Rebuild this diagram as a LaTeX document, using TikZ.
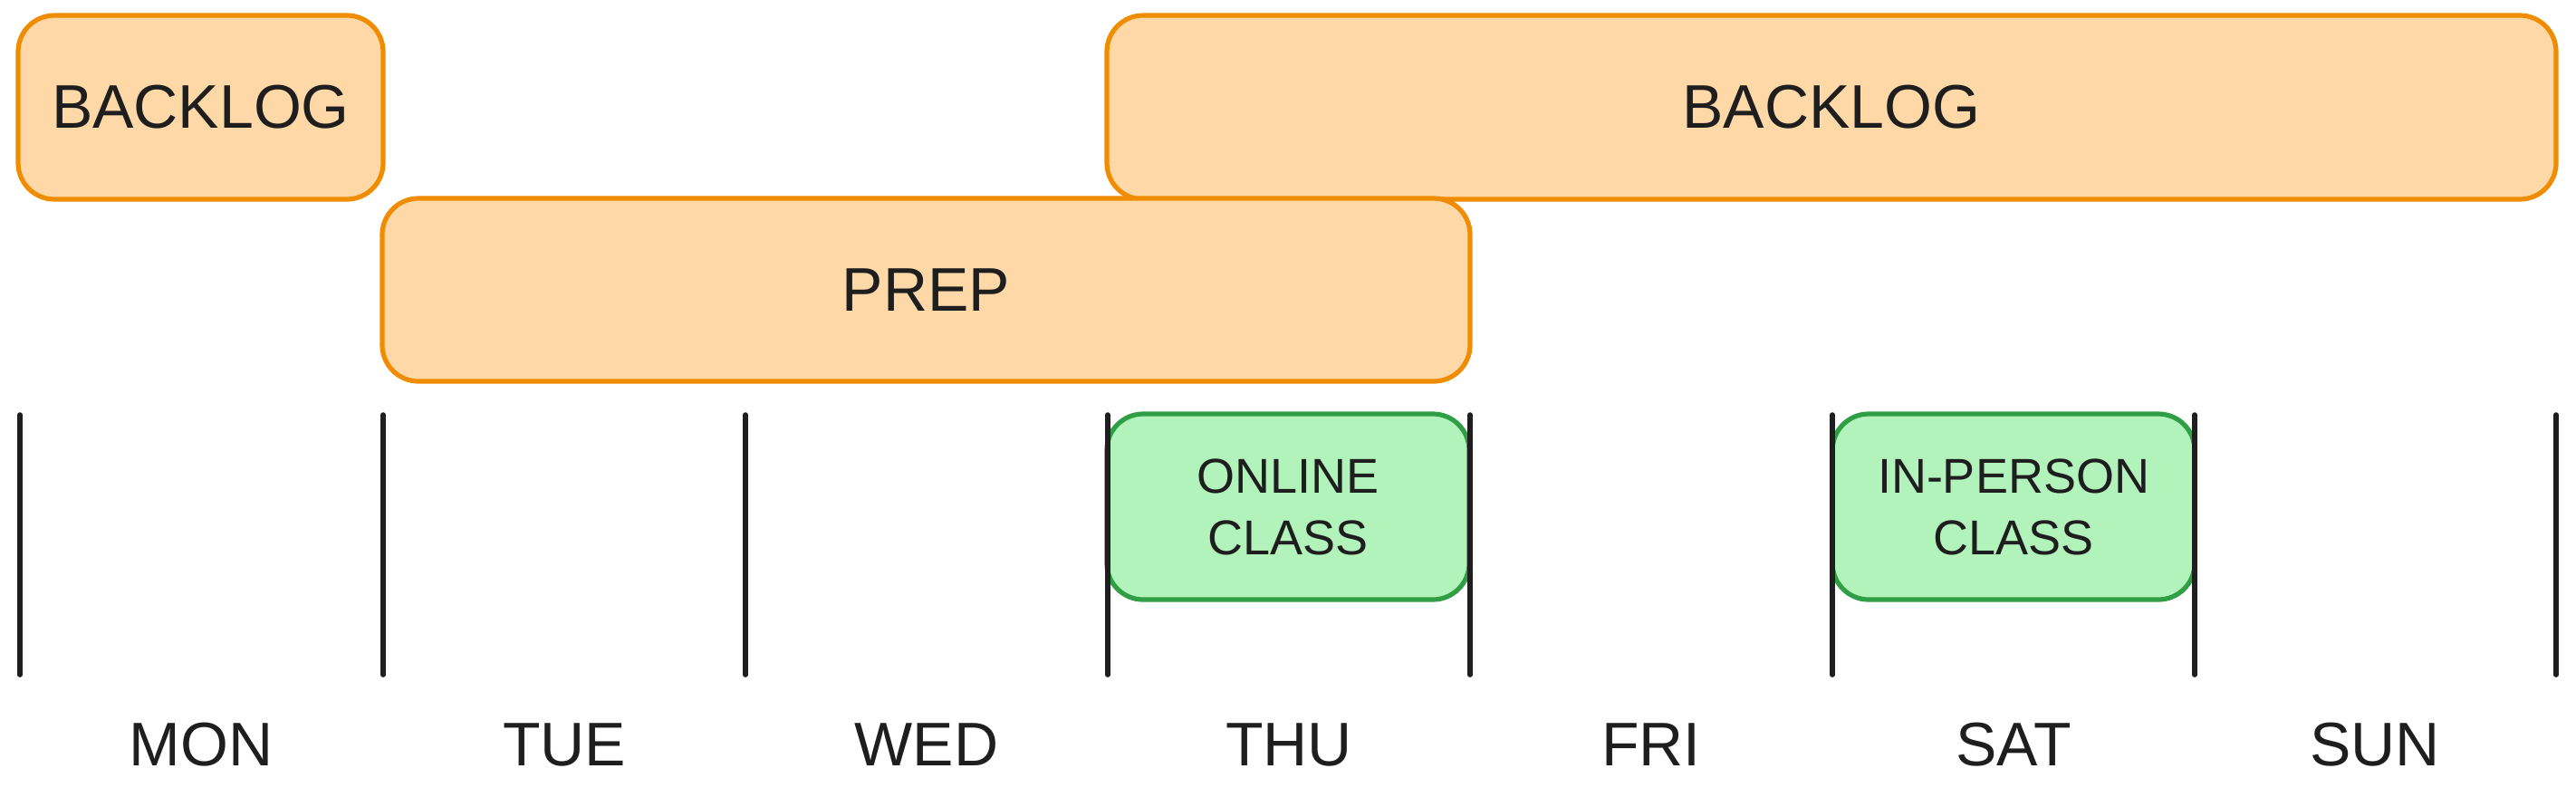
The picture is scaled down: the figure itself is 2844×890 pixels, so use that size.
\documentclass[tikz,border=0pt]{standalone}
\usepackage{fontspec}
\setmainfont{Liberation Sans}
\definecolor{ink}{HTML}{1E1E1E}
\definecolor{orfill}{HTML}{FFD8A8}
\definecolor{orline}{HTML}{F08C00}
\definecolor{grfill}{HTML}{B2F2BB}
\definecolor{grline}{HTML}{2F9E44}
\tikzset{
  obox/.style={draw=orline, fill=orfill, line width=2.6pt, rounded corners=20pt,
    inner sep=0pt, text=ink, font=\fontsize{34}{40}\selectfont},
  gbox/.style={draw=grline, fill=grfill, line width=2.6pt, rounded corners=20pt,
    inner sep=0pt, text=ink, align=center, font=\fontsize{27}{34}\selectfont},
  tick/.style={draw=ink, line width=2.8pt, line cap=round},
  day/.style={text=ink, font=\fontsize{34}{40}\selectfont, inner sep=0pt}
}
\begin{document}
\begin{tikzpicture}[x=0.5pt, y=-0.5pt]
\useasboundingbox (0,0) rectangle (2844,890);
% orange bars
\node[obox, minimum width=201.5pt, minimum height=101.5pt] (bl1) at (221.5,118.5) {BACKLOG};
\node[obox, minimum width=800pt, minimum height=101.5pt] (bl2) at (2022,118.5) {BACKLOG};
\node[obox, minimum width=600.5pt, minimum height=101pt] (prep) at (1022.5,320) {PREP};
% green classes
\node[gbox, minimum width=200pt, minimum height=102.5pt] (online) at (1422,559.5) {ONLINE\\CLASS};
\node[gbox, minimum width=200pt, minimum height=102.5pt] (inperson) at (2223,559.5) {IN-PERSON\\CLASS};
% day separators
\foreach \i/\x in {1/22,2/423,3/823,4/1223,5/1623,6/2023,7/2423,8/2822}{
  \coordinate (t\i) at (\x,458);
  \coordinate (b\i) at (\x,745);
  \draw[tick] (t\i) -- (b\i);
}
% day labels
\node[day] (mon) at (222,822) {MON};
\node[day] (tue) at (623,822) {TUE};
\node[day] (wed) at (1023,822) {WED};
\node[day] (thu) at (1423,822) {THU};
\node[day] (fri) at (1823,822) {FRI};
\node[day] (sat) at (2223,822) {SAT};
\node[day] (sun) at (2622,822) {SUN};
\end{tikzpicture}
\end{document}
